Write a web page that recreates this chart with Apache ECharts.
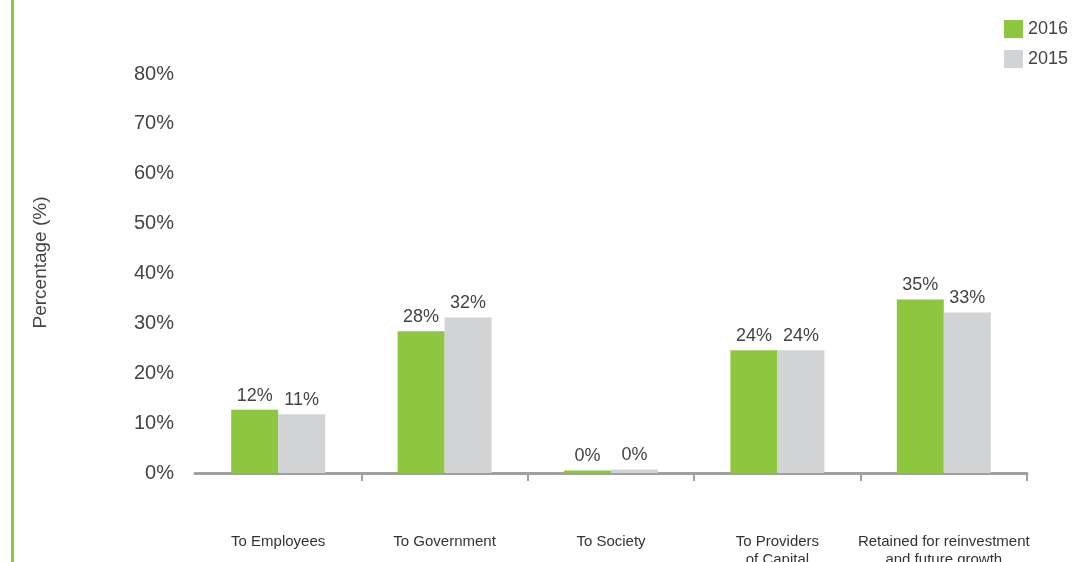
<!DOCTYPE html>
<html>
<head>
<meta charset="utf-8">
<script src="https://cdn.jsdelivr.net/npm/echarts@6/dist/echarts.min.js"></script>
<style>
  html, body { margin: 0; padding: 0; background: #fff; }
  #main { width: 1075px; height: 562px; }
</style>
</head>
<body>
<div id="main"></div>
<script>
var categories = ['To Employees', 'To Government', 'To Society', 'To Providers\nof Capital', 'Retained for reinvestment\nand future growth'];
var values2016 = [12.7, 28.4, 0.5, 24.6, 34.8];
var values2015 = [11.8, 31.2, 0.7, 24.6, 32.2];
var labels2016 = ['12%', '28%', '0%', '24%', '35%'];
var labels2015 = ['11%', '32%', '0%', '24%', '33%'];
var yTicks = [0, 10, 20, 30, 40, 50, 60, 70, 80];

var chart = echarts.init(document.getElementById('main'));

var font = 'Liberation Sans, Arial, sans-serif';

function barLabel(texts) {
  return {
    show: true,
    position: 'top',
    distance: 5,
    fontFamily: font,
    fontSize: 18,
    color: '#444',
    formatter: function (p) { return texts[p.dataIndex]; }
  };
}

var option = {
  animation: false,
  textStyle: { fontFamily: font },
  graphic: [{
    type: 'rect',
    shape: { x: 11, y: 0, width: 3, height: 562 },
    style: { fill: '#8dc63f' }
  }],
  legend: {
    orient: 'vertical',
    right: 2,
    top: 15,
    icon: 'rect',
    itemWidth: 19,
    itemHeight: 18,
    itemGap: 12,
    textStyle: { fontSize: 18, color: '#444', fontFamily: font },
    data: ['2016', '2015']
  },
  grid: {
    left: 195,
    right: 48,
    top: 74,
    bottom: 89,
    outerBoundsMode: 'none'
  },
  xAxis: {
    type: 'category',
    data: categories,
    axisLine: { lineStyle: { color: '#a0a0a0', width: 3 } },
    axisTick: {
      show: true,
      length: 8,
      lineStyle: { color: '#a0a0a0', width: 2 },
      interval: function (index) { return index !== 0; }
    },
    axisLabel: {
      interval: 0,
      margin: 60,
      fontSize: 15,
      lineHeight: 18,
      color: '#333',
      fontFamily: font
    }
  },
  yAxis: {
    type: 'value',
    min: yTicks[0],
    max: yTicks[yTicks.length - 1],
    interval: 10,
    name: 'Percentage (%)',
    nameLocation: 'middle',
    nameGap: 145,
    nameRotate: 90,
    nameTextStyle: { fontSize: 19, color: '#444', fontFamily: font, padding: [0, 0, 0, 22] },
    axisLine: { show: false },
    axisTick: { show: false },
    splitLine: { show: false },
    axisLabel: {
      margin: 21,
      fontSize: 20,
      color: '#444',
      fontFamily: font,
      formatter: '{value}%'
    }
  },
  series: [
    {
      name: '2016',
      type: 'bar',
      data: values2016,
      barWidth: 47,
      barGap: '0%',
      itemStyle: { color: '#8dc63f' },
      label: barLabel(labels2016)
    },
    {
      name: '2015',
      type: 'bar',
      data: values2015,
      barWidth: 47,
      itemStyle: { color: '#d1d3d4' },
      label: barLabel(labels2015)
    }
  ]
};

chart.setOption(option);
</script>
</body>
</html>
